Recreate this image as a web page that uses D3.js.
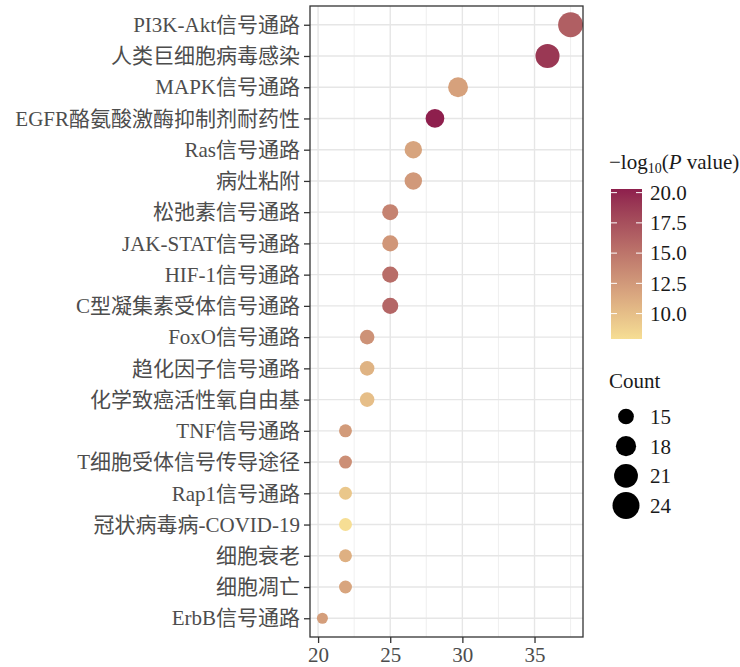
<!DOCTYPE html>
<html>
<head>
<meta charset="utf-8">
<script src="https://cdn.jsdelivr.net/npm/d3@7/dist/d3.min.js"></script>
<style>
  body { margin: 0; background: #fff; }
  svg text { font-family: "Liberation Serif", "Noto Sans CJK SC", serif; }
</style>
</head>
<body>
<svg id="chart" width="740" height="667"></svg>
<script>
// data
const pathways = [
  'PI3K-Akt信号通路', '人类巨细胞病毒感染', 'MAPK信号通路', 'EGFR酪氨酸激酶抑制剂耐药性',
  'Ras信号通路', '病灶粘附', '松弛素信号通路', 'JAK-STAT信号通路', 'HIF-1信号通路',
  'C型凝集素受体信号通路', 'FoxO信号通路', '趋化因子信号通路', '化学致癌活性氧自由基',
  'TNF信号通路', 'T细胞受体信号传导途径', 'Rap1信号通路', '冠状病毒病-COVID-19',
  '细胞衰老', '细胞凋亡', 'ErbB信号通路'
]
const ratio    = [37.5, 35.9, 29.7, 28.1, 26.6, 26.6, 25.0, 25.0, 25.0, 25.0, 23.4, 23.4, 23.4, 21.9, 21.9, 21.9, 21.9, 21.9, 21.9, 20.3]
const counts   = [24, 23, 19, 18, 17, 17, 16, 16, 16, 16, 15, 15, 15, 14, 14, 14, 14, 14, 14, 13]
const negLogP  = [16.5, 19.0, 12.0, 20.3, 11.8, 12.5, 14.0, 12.7, 15.5, 16.0, 13.0, 10.8, 10.0, 12.4, 13.2, 9.4, 7.9, 11.0, 11.7, 12.2]

const xTicks      = [20, 25, 30, 35]
const xMinorTicks = [22.5, 27.5, 32.5, 37.5]
const colorTicks  = [10, 12.5, 15, 17.5, 20]
const sizeBreaks  = [15, 18, 21, 24]

const rows = pathways.map((p, i) => ({ name: p, x: ratio[i], count: counts[i], p: negLogP[i] }))

// layout
const panel = { left: 310, right: 583, top: 6, bottom: 637 }
const svg = d3.select('#chart')

// scales
const xExt = d3.extent(ratio)
const pad = (xExt[1] - xExt[0]) * 0.05
const x = d3.scaleLinear()
  .domain([xExt[0] - pad, xExt[1] + pad])
  .range([panel.left, panel.right])

const y = d3.scalePoint()
  .domain(pathways)
  .range([panel.top, panel.bottom])
  .padding(0.6)

const r = d3.scaleRadial()
  .domain(d3.extent(counts))
  .range([5.5, 12.5])

const color = d3.scaleLinear()
  .domain(d3.extent(negLogP))
  .range(['#F6DE94', '#8E1F4D'])
  .interpolate(d3.interpolateLab)

// grid
const grid = svg.append('g')
grid.selectAll('.minor')
  .data(xMinorTicks)
  .join('line')
    .attr('x1', d => x(d)).attr('x2', d => x(d))
    .attr('y1', panel.top).attr('y2', panel.bottom)
    .attr('stroke', '#EBEBEB').attr('stroke-width', 0.8)
grid.selectAll('.vmajor')
  .data(xTicks)
  .join('line')
    .attr('x1', d => x(d)).attr('x2', d => x(d))
    .attr('y1', panel.top).attr('y2', panel.bottom)
    .attr('stroke', '#E6E6E6').attr('stroke-width', 1.4)
grid.selectAll('.hmajor')
  .data(pathways)
  .join('line')
    .attr('x1', panel.left).attr('x2', panel.right)
    .attr('y1', d => y(d)).attr('y2', d => y(d))
    .attr('stroke', '#E6E6E6').attr('stroke-width', 1.4)

// points
svg.append('clipPath').attr('id', 'clip')
  .append('rect')
    .attr('x', panel.left).attr('y', panel.top)
    .attr('width', panel.right - panel.left).attr('height', panel.bottom - panel.top)

svg.append('g')
  .attr('clip-path', 'url(#clip)')
  .selectAll('circle')
  .data(rows)
  .join('circle')
    .attr('cx', d => x(d.x))
    .attr('cy', d => y(d.name))
    .attr('r', d => r(d.count))
    .attr('fill', d => color(d.p))

// panel border
svg.append('rect')
  .attr('x', panel.left).attr('y', panel.top)
  .attr('width', panel.right - panel.left).attr('height', panel.bottom - panel.top)
  .attr('fill', 'none').attr('stroke', '#333').attr('stroke-width', 1.3)

// axes
const xAxis = svg.append('g')
  .attr('transform', `translate(0,${panel.bottom})`)
  .call(d3.axisBottom(x).tickValues(xTicks).tickSize(6).tickPadding(4).tickFormat(d3.format('d')))
xAxis.select('.domain').remove()
xAxis.selectAll('line').attr('stroke', '#333').attr('stroke-width', 1.3)
xAxis.selectAll('text').attr('fill', '#4D4D4D').style('font-size', '21px')

const yAxis = svg.append('g')
  .attr('transform', `translate(${panel.left},0)`)
  .call(d3.axisLeft(y).tickSize(6).tickPadding(4))
yAxis.select('.domain').remove()
yAxis.selectAll('line').attr('stroke', '#333').attr('stroke-width', 1.3)
yAxis.selectAll('text').attr('fill', '#4D4D4D').style('font-size', '21px')

// color legend
const cb = { x: 611, y: 189, w: 31, h: 150 }
const cbScale = d3.scaleLinear()
  .domain(d3.extent(negLogP))
  .range([cb.y + cb.h, cb.y])

const grad = svg.append('defs').append('linearGradient')
  .attr('id', 'grad').attr('x1', 0).attr('x2', 0).attr('y1', 1).attr('y2', 0)
d3.range(0, 1.0001, 0.1).forEach(t => {
  const v = color.domain()[0] + t * (color.domain()[1] - color.domain()[0])
  grad.append('stop').attr('offset', t).attr('stop-color', color(v))
})

const title = svg.append('text')
  .attr('x', 609).attr('y', 169)
  .attr('fill', '#1a1a1a').style('font-size', '21px')
title.append('tspan').text('−log')
title.append('tspan').attr('dy', 4).style('font-size', '14px').text('10')
title.append('tspan').attr('dy', -4).text('(')
title.append('tspan').style('font-style', 'italic').text('P')
title.append('tspan').text(' value)')

svg.append('rect')
  .attr('x', cb.x).attr('y', cb.y)
  .attr('width', cb.w).attr('height', cb.h)
  .attr('fill', 'url(#grad)')

const cbTicks = svg.append('g')
cbTicks.selectAll('.tl')
  .data(colorTicks)
  .join('line')
    .attr('x1', cb.x).attr('x2', cb.x + 6)
    .attr('y1', d => cbScale(d)).attr('y2', d => cbScale(d))
    .attr('stroke', '#fff').attr('stroke-width', 1)
cbTicks.selectAll('.tr')
  .data(colorTicks)
  .join('line')
    .attr('x1', cb.x + cb.w - 6).attr('x2', cb.x + cb.w)
    .attr('y1', d => cbScale(d)).attr('y2', d => cbScale(d))
    .attr('stroke', '#fff').attr('stroke-width', 1)
cbTicks.selectAll('text')
  .data(colorTicks)
  .join('text')
    .attr('x', 650)
    .attr('y', d => cbScale(d))
    .attr('dy', '0.35em')
    .attr('fill', '#1a1a1a').style('font-size', '21px')
    .text(d => d3.format('.1f')(d))

// size legend
svg.append('text')
  .attr('x', 609).attr('y', 388)
  .attr('fill', '#1a1a1a').style('font-size', '21px')
  .text('Count')

const sizeY = d3.scalePoint()
  .domain(sizeBreaks)
  .range([416.5, 505.5])

const sl = svg.append('g')
sl.selectAll('circle')
  .data(sizeBreaks)
  .join('circle')
    .attr('cx', 626)
    .attr('cy', d => sizeY(d))
    .attr('r', d => r(d) * 1.08)
    .attr('fill', '#000')
sl.selectAll('text')
  .data(sizeBreaks)
  .join('text')
    .attr('x', 650)
    .attr('y', d => sizeY(d))
    .attr('dy', '0.35em')
    .attr('fill', '#1a1a1a').style('font-size', '21px')
    .text(d => d)
</script>
</body>
</html>
